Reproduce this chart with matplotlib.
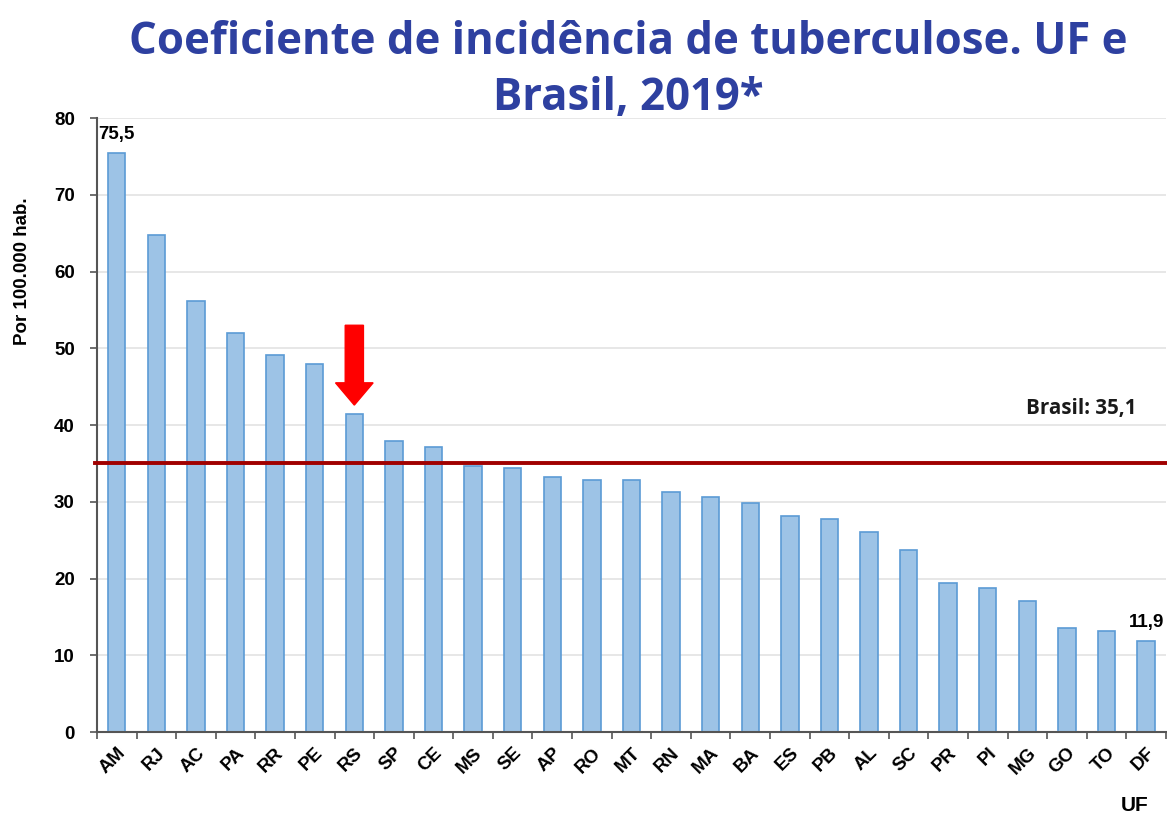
import matplotlib
matplotlib.use("Agg")
import matplotlib.pyplot as plt
from matplotlib.patches import FancyArrow
from matplotlib.ticker import FixedLocator

ufs = ["AM", "RJ", "AC", "PA", "RR", "PE", "RS", "SP", "CE", "MS", "SE", "AP", "RO", "MT",
       "RN", "MA", "BA", "ES", "PB", "AL", "SC", "PR", "PI", "MG", "GO", "TO", "DF"]
values = [75.5, 64.7, 56.2, 52.0, 49.1, 48.0, 41.4, 37.9, 37.2, 34.7, 34.4, 33.2, 32.9, 32.9,
          31.3, 30.6, 29.8, 28.2, 27.7, 26.1, 23.7, 19.4, 18.8, 17.1, 13.6, 13.1, 11.9]
brasil = 35.1
yticks = [0, 10, 20, 30, 40, 50, 60, 70, 80]
title = "Coeficiente de incidência de tuberculose. UF e\nBrasil, 2019*"

fig = plt.figure(figsize=(11.67, 8.18), dpi=100)
ax = fig.add_axes([0.0831, 0.1051, 0.9160, 0.7506])

x = list(range(len(ufs)))
ax.bar(x, values, width=0.44, color="#9DC3E6", edgecolor="#5B9BD5", linewidth=1.2, zorder=2)
ax.set_xlim(-0.5, len(ufs) - 0.5)
ax.set_ylim(0, 80)
ax.set_yticks(yticks)
ax.yaxis.grid(True, color="#E3E3E3", linewidth=1.2, zorder=0)
ax.set_axisbelow(True)

lab_font = dict(fontfamily="Liberation Sans", fontweight="bold", fontsize=13.5)
ax.set_xticks(x)
ax.set_xticklabels(ufs, rotation=45, ha="right", rotation_mode="anchor", **lab_font)
ax.xaxis.set_minor_locator(FixedLocator([i + 0.5 for i in range(-1, len(ufs))]))
ax.tick_params(axis="x", which="major", length=0, pad=9)
ax.tick_params(axis="x", which="minor", length=5, width=1.2, color="#555555")
ax.tick_params(axis="y", length=5, width=1.2, color="#555555", pad=11)
for lab in ax.get_yticklabels():
    lab.set_fontfamily("Liberation Sans")
    lab.set_fontweight("bold")
    lab.set_fontsize(13.5)

for s in ["top", "right"]:
    ax.spines[s].set_visible(False)
for s in ["left", "bottom"]:
    ax.spines[s].set_color("#555555")
    ax.spines[s].set_linewidth(1.5)

ax.axhline(brasil, color="#A00000", linewidth=2.8, zorder=3, xmin=-0.002, clip_on=False)
ax.text(25.75, 42.1, "Brasil: 35,1", ha="right", va="center",
        fontfamily="Open Sans", fontweight="bold", fontsize=14.8, color="#1a1a1a")

ax.text(0, values[0] + 1.2, "75,5", ha="center", va="bottom", **lab_font)
ax.text(len(ufs) - 1, values[-1] + 1.2, "11,9", ha="center", va="bottom", **lab_font)

# red arrow above RS
ax.add_patch(FancyArrow(6, 53.0, 0, -10.4, width=0.46, head_width=0.95, head_length=2.9,
                        length_includes_head=True, color="#FF0000", zorder=4))

ax.set_ylabel("Por 100.000 hab.", fontfamily="Liberation Sans", fontweight="bold", fontsize=13.5)
ax.yaxis.set_label_coords(-0.062, 0.75)
fig.text(0.972, 0.004, "UF", ha="center", va="bottom", fontfamily="Liberation Sans",
         fontweight="bold", fontsize=15)

fig.text(0.538, 0.976, title, ha="center", va="top", fontfamily="Open Sans", fontweight="bold",
         fontsize=31.5, color="#2E40A0", linespacing=1.32)

fig.savefig("out.png", dpi=100)
